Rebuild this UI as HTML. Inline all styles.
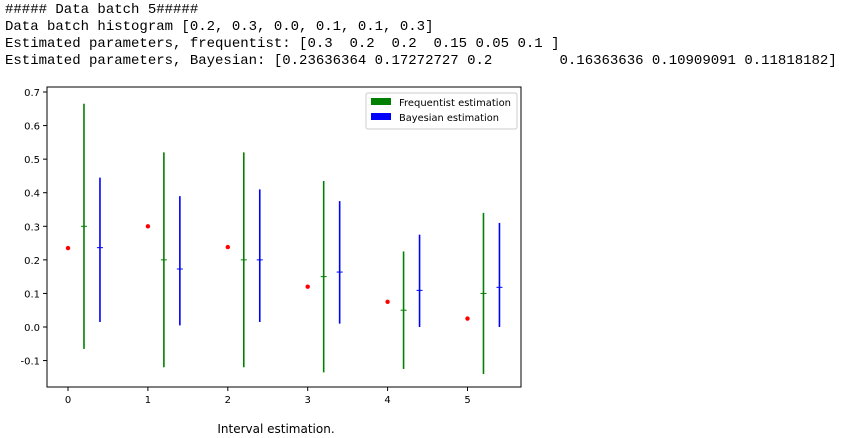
<!DOCTYPE html>
<html><head><meta charset="utf-8"><style>
body{margin:0;background:#fff;width:845px;height:438px;overflow:hidden;font-family:"DejaVu Sans",sans-serif}
pre{margin:0;position:absolute;left:5px;top:2px;font-family:"Liberation Mono",monospace;font-size:14px;line-height:17px;color:#000}
</style></head><body>
<pre>##### Data batch 5#####
Data batch histogram [0.2, 0.3, 0.0, 0.1, 0.1, 0.3]
Estimated parameters, frequentist: [0.3  0.2  0.2  0.15 0.05 0.1 ]
Estimated parameters, Bayesian: [0.23636364 0.17272727 0.2        0.16363636 0.10909091 0.11818182]</pre>
<svg id="chart" width="845" height="438" style="position:absolute;left:0;top:0" font-family="DejaVu Sans, sans-serif"></svg>
<script>
const trueVals=[0.235,0.3,0.238,0.12,0.075,0.025];
const freqMean=[0.3,0.2,0.2,0.15,0.05,0.1];
const freqLow=[-0.065,-0.12,-0.12,-0.135,-0.125,-0.14];
const freqHigh=[0.665,0.52,0.52,0.435,0.225,0.34];
const bayesMean=[0.23636364,0.17272727,0.2,0.16363636,0.10909091,0.11818182];
const bayesLow=[0.015,0.005,0.015,0.01,0.0,0.0];
const bayesHigh=[0.445,0.39,0.41,0.375,0.275,0.31];
const xTicks=[0,1,2,3,4,5];
const yTicks=[-0.1,0.0,0.1,0.2,0.3,0.4,0.5,0.6,0.7];
const svg=document.getElementById('chart');
const NS='http://www.w3.org/2000/svg';
const X=v=>68+v*79.9, Y=v=>327-v*335.7;
function el(t,a,p){const e=document.createElementNS(NS,t);for(const k in a)e.setAttribute(k,a[k]);(p||svg).appendChild(e);return e;}
const L=47,R=521,T=87,B=387;
yTicks.forEach(v=>{const y=Y(v);
 const t=el('line',{x1:L-4,x2:L,y1:y,y2:y,stroke:'#000'});
 
 const tx=el('text',{x:L-7,y:y+4,'font-size':10,'text-anchor':'end'});tx.textContent=v.toFixed(1);
 });
xTicks.forEach(v=>{const x=X(v);
 const t=el('line',{x1:x,x2:x,y1:B,y2:B+4,stroke:'#000'});
 
 const tx=el('text',{x:x,y:B+16,'font-size':10,'text-anchor':'middle'});tx.textContent=v;
 });
trueVals.forEach((v,i)=>{const c=el('circle',{cx:X(i),cy:Y(v),r:2.2,fill:'red'});
 });
function bars(mean,lo,hi,off,col,name){mean.forEach((m,i)=>{const x=X(i+off);
 const l=el('line',{x1:x,x2:x,y1:Y(hi[i]),y2:Y(lo[i]),stroke:col,'stroke-width':1.6});
 
 const c=el('line',{x1:x-3,x2:x+3,y1:Y(m),y2:Y(m),stroke:col,'stroke-width':1});
 });}
bars(freqMean,freqLow,freqHigh,0.2,'green','frequentist');
bars(bayesMean,bayesLow,bayesHigh,0.4,'blue','bayesian');
const fr=el('rect',{x:L,y:T,width:R-L,height:B-T,fill:'none',stroke:'#000','stroke-width':1});

const lg=el('g',{});
el('rect',{x:366,y:93,width:151,height:36,fill:'#fff',stroke:'#ccc',rx:2},lg);
[['green','Frequentist estimation',103],['blue','Bayesian estimation',118]].forEach(([c,t,y])=>{
 const r=el('rect',{x:371,y:y-5,width:20,height:7,fill:c},lg);
 
 const tx=el('text',{x:399,y:y+3,'font-size':10,textLength:112,lengthAdjust:'spacingAndGlyphs'},lg);tx.textContent=t;
 if(t.startsWith('Bayesian'))tx.setAttribute('textLength',100);
 });
const cap=el('text',{x:276,y:433,'font-size':12,'text-anchor':'middle'});cap.textContent='Interval estimation.';

</script>
</body></html>
